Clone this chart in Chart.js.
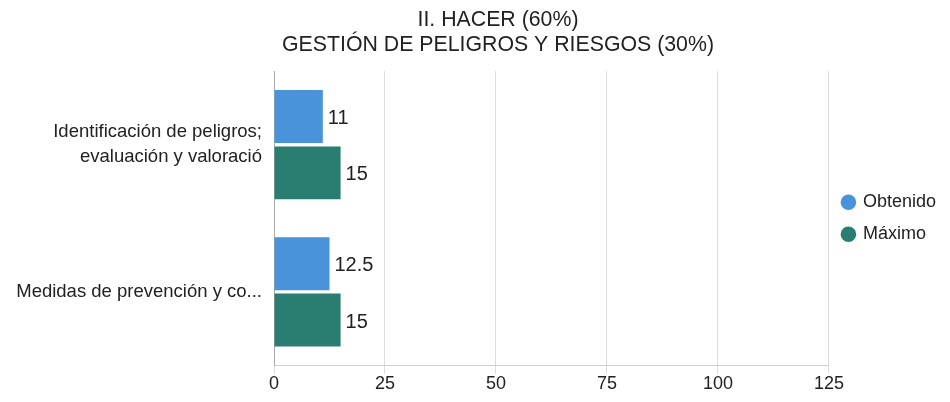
<!DOCTYPE html>
<html>
<head>
<meta charset="utf-8">
<script src="https://cdn.jsdelivr.net/npm/chart.js@4/dist/chart.umd.min.js"></script>
<style>
  body { margin: 0; background: #fff; }
  #wrap { width: 950px; height: 402px; position: relative; }
</style>
</head>
<body>
<div id="wrap"><canvas id="chart"></canvas></div>
<script>
var titleLines = ['II. HACER (60%)', 'GESTIÓN DE PELIGROS Y RIESGOS (30%)'];
var categories = [
  ['Identificación de peligros;', 'evaluación y valoració'],
  'Medidas de prevención y co...'
];
var obtenido = [11, 12.5];
var maximo = [15, 15];
var xTicks = [0, 25, 50, 75, 100, 125];

var blue = '#4a92da';
var teal = '#2a7e71';
var fontFamily = 'Arial, "Liberation Sans", sans-serif';

// draws the value at the end of each bar
var valueLabels = {
  id: 'valueLabels',
  afterDatasetsDraw: function (chart) {
    var ctx = chart.ctx;
    ctx.save();
    ctx.font = '20px ' + fontFamily;
    ctx.fillStyle = '#222';
    ctx.textAlign = 'left';
    ctx.textBaseline = 'middle';
    chart.data.datasets.forEach(function (ds, i) {
      var meta = chart.getDatasetMeta(i);
      meta.data.forEach(function (bar, j) {
        ctx.fillText(ds.data[j], bar.x + 5, bar.y + 2);
      });
    });
    ctx.restore();
  }
};

// the title sits a bit right of the page centre in the original
var titleShift = {
  id: 'titleShift',
  afterLayout: function (chart) {
    if (chart.titleBlock) {
      chart.titleBlock.left = 46;
      chart.titleBlock.right = chart.width;
    }
  }
};

var chart = new Chart(document.getElementById('chart').getContext('2d'), {
  type: 'bar',
  data: {
    labels: categories,
    datasets: [{
      label: 'Obtenido',
      data: obtenido,
      backgroundColor: blue,
      borderColor: blue,
      categoryPercentage: 0.766,
      barPercentage: 0.94
    }, {
      label: 'Máximo',
      data: maximo,
      backgroundColor: teal,
      borderColor: teal,
      categoryPercentage: 0.766,
      barPercentage: 0.94
    }]
  },
  options: {
    indexAxis: 'y',
    responsive: true,
    maintainAspectRatio: false,
    animation: false,
    events: [],
    layout: {
      padding: { left: 8, right: 4, top: 7, bottom: 7 }
    },
    plugins: {
      title: {
        display: true,
        text: titleLines,
        color: '#222',
        font: { family: fontFamily, size: 21.3, weight: 'normal', lineHeight: 1.2 },
        padding: { top: 0, bottom: 13 }
      },
      legend: {
        position: 'right',
        fullSize: false,
        labels: {
          usePointStyle: true,
          pointStyle: 'circle',
          boxWidth: 11,
          boxHeight: 11,
          color: '#222',
          padding: 14,
          font: { family: fontFamily, size: 18 }
        }
      },
      tooltip: { enabled: false }
    },
    scales: {
      x: {
        min: xTicks[0],
        max: xTicks[xTicks.length - 1],
        afterBuildTicks: function (axis) {
          axis.ticks = xTicks.map(function (v) { return { value: v }; });
        },
        grid: { color: '#dcdcdc', tickLength: 8 },
        border: { display: true, color: '#d0d0d0' },
        ticks: {
          color: '#222',
          padding: 0,
          font: { family: fontFamily, size: 18 }
        }
      },
      y: {
        afterFit: function (axis) {
          axis.width = 266;
        },
        grid: { display: false },
        border: { display: true, color: '#aaa' },
        ticks: {
          color: '#222',
          padding: 4,
          font: { family: fontFamily, size: 18.5, lineHeight: 1.35 }
        }
      }
    }
  },
  plugins: [valueLabels, titleShift]
});
</script>
</body>
</html>
